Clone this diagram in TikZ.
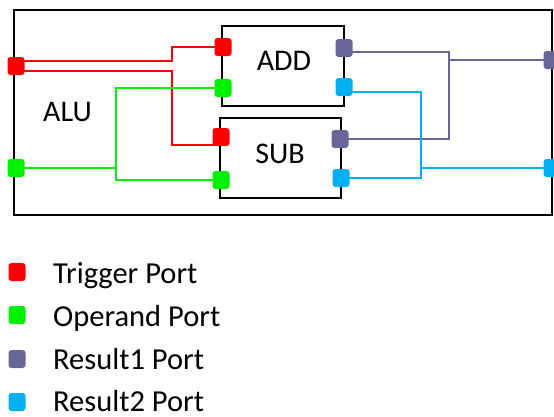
\documentclass[tikz,border=0pt]{standalone}
\usepackage{fontspec}
\setmainfont{Carlito}
\usetikzlibrary{backgrounds}
\definecolor{trig}{HTML}{FF0000}
\definecolor{oper}{HTML}{00F000}
\definecolor{resa}{HTML}{666699}
\definecolor{resb}{HTML}{00B0F0}
\tikzset{
  port/.style={minimum width=17pt, minimum height=18pt, rounded corners=3pt, inner sep=0pt, draw=none},
  wire/.style={line width=2.8pt},
  blk/.style={draw=black, line width=2.8pt},
  lbl/.style={font=\fontsize{30}{34}\selectfont, inner sep=0pt, anchor=base},
  lgl/.style={font=\fontsize{30.5}{34}\selectfont, inner sep=0pt, anchor=base west}
}
\begin{document}
\begin{tikzpicture}[x=1pt,y=-1pt]
\useasboundingbox (0,0) rectangle (554,416);
% boxes
\draw[blk] (14,10) rectangle (552,215);
\draw[blk] (222,26) rectangle (344,106);
\draw[blk] (220,118) rectangle (341,198);
% labels
\node[lbl, anchor=base west] (alulbl) at (43,121) {ALU};
\node[lbl] (addlbl) at (284,70) {ADD};
\node[lbl] (sublbl) at (280,163) {SUB};
% ports
\node[port, fill=trig] (alutrig) at (16,66) {};
\node[port, fill=oper] (aluop) at (16,168) {};
\node[port, fill=resa] (alur1) at (552,60) {};
\node[port, fill=resb] (alur2) at (552,168) {};
\node[port, fill=trig] (addtrig) at (223,47) {};
\node[port, fill=oper] (addop) at (223,88) {};
\node[port, fill=resa] (addr1) at (344,48) {};
\node[port, fill=resb] (addr2) at (344,87) {};
\node[port, fill=trig] (subtrig) at (221,137) {};
\node[port, fill=oper] (subop) at (221,180) {};
\node[port, fill=resa] (subr1) at (340,139) {};
\node[port, fill=resb] (subr2) at (341,178) {};
% wires
\begin{scope}[on background layer]
\draw[wire, trig] ([yshift=5pt]alutrig.center) -- (172,61) -- (172,47) -- (addtrig.center);
\draw[wire, trig] ([yshift=-5pt]alutrig.center) -- (172,71) -- (172,145) -- ([yshift=-8pt]subtrig.center);
\draw[wire, oper] (addop.center) -- (116,88) -- (116,180) -- (subop.center);
\draw[wire, oper] (aluop.center) -- (116,168);
\draw[wire, resa] ([yshift=-4pt]addr1.center) -- (449,52) -- (449,139) -- (subr1.center);
\draw[wire, resa] (449,60) -- (alur1.center);
\draw[wire, resb] ([yshift=-5pt]addr2.center) -- (421,92) -- (421,178) -- (subr2.center);
\draw[wire, resb] (421,168) -- (alur2.center);
\end{scope}
% legend
\node[port, fill=trig] (lgtrig) at (17,272) {};
\node[port, fill=oper] (lgop) at (17,315) {};
\node[port, fill=resa] (lgr1) at (17,359) {};
\node[port, fill=resb] (lgr2) at (17,402) {};
\node[lgl] (lttrig) at (53,283) {Trigger Port};
\node[lgl] (ltop) at (53,326) {Operand Port};
\node[lgl] (ltr1) at (53,369) {Result1 Port};
\node[lgl] (ltr2) at (53,411) {Result2 Port};
\end{tikzpicture}
\end{document}
